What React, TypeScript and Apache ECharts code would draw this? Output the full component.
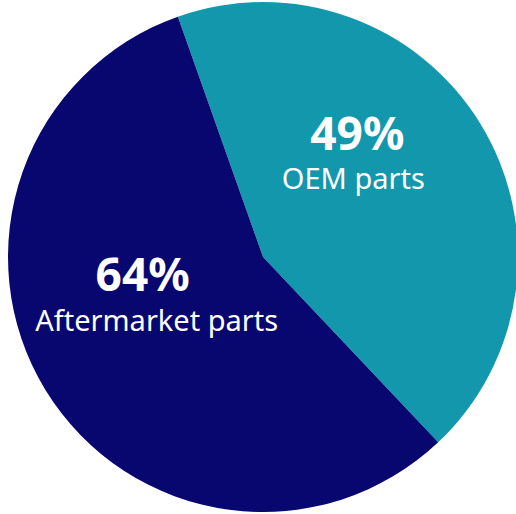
import React, { useEffect, useRef } from "react";
import * as echarts from "echarts";

const categories = ["OEM parts", "Aftermarket parts"];
const values = [49, 64];
const percentLabels = ["49%", "64%"];
const colors = ["#1297ad", "#08076f"];

export default function App() {
  const ref = useRef<HTMLDivElement>(null);
  useEffect(() => {
    document.body.style.margin = "0";
    const chart = echarts.init(ref.current!, null, { renderer: "svg" });
    const offsets = [
      { dx: -21, dy: -40 },
      { dx: 5, dy: -35 },
    ];
    chart.setOption({
      animation: false,
      backgroundColor: "#ffffff",
      series: [
        {
          type: "pie",
          center: [263, 257],
          radius: [0, 255],
          startAngle: 109.5,
          clockwise: true,
          silent: true,
          itemStyle: { borderWidth: 0 },
          labelLine: { show: false },
          label: {
            show: true,
            position: "inside",
            color: "#ffffff",
            fontFamily: "Noto Sans",
            formatter: (p: any) =>
              p.dataIndex === 0
                ? `{pa|${percentLabels[0]}}\n{s|${categories[0]}}`
                : `{pb|${percentLabels[1]}}\n{s|${categories[1]}}`,
            rich: {
              pa: {
                fontSize: 46,
                fontWeight: "bold",
                color: "#ffffff",
                fontFamily: "Noto Sans",
                lineHeight: 58,
                padding: [0, 0, 0, 8],
              },
              pb: {
                fontSize: 46,
                fontWeight: "bold",
                color: "#ffffff",
                fontFamily: "Noto Sans",
                lineHeight: 58,
                padding: [0, 28, 0, 0],
              },
              s: {
                fontSize: 29,
                color: "#ffffff",
                fontFamily: "Noto Sans",
                lineHeight: 34,
              },
            },
          },
          labelLayout: (params: any) => offsets[params.dataIndex],
          data: categories.map((name, i) => ({
            name,
            value: values[i],
            itemStyle: { color: colors[i] },
          })),
        },
      ],
    });
    return () => chart.dispose();
  }, []);
  return <div ref={ref} style={{ width: 516, height: 514 }} />;
}
